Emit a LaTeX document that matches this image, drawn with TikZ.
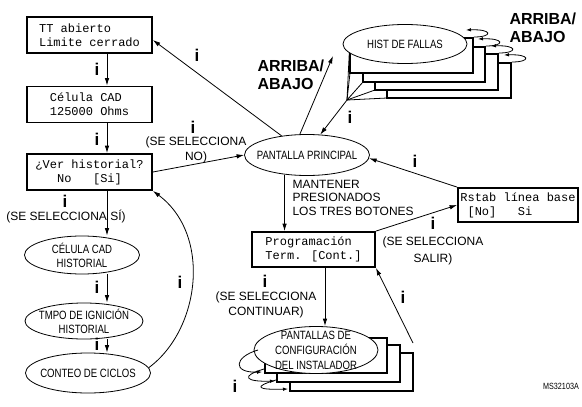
\documentclass[tikz,border=0pt]{standalone}
\usepackage{fontspec}
\setmainfont{Liberation Sans}
\newfontfamily\narrowfont{Liberation Sans}[FakeStretch=0.8]
\newfontfamily\lcdfont{Liberation Mono}
\usetikzlibrary{shapes.geometric, arrows.meta, positioning}
\tikzset{
  >=Latex,
  flowarrow/.style={-{Latex[length=7.5pt, width=4.5pt]}, line width=0.8pt},
  looparrow/.style={-{Latex[length=5pt, width=3.5pt]}, line width=0.8pt}
}
\begin{document}
\begin{tikzpicture}[
    x=1pt, y=-1pt,
    lcdbox/.style={rectangle, draw, line width=1.8pt, inner sep=0pt, minimum width=125pt, minimum height=36pt, align=left, font=\lcdfont\fontsize{12}{14}\selectfont},
    oval/.style={ellipse, draw, line width=0.8pt, fill=white, inner xsep=-7pt, inner ysep=-5pt, align=center, font=\narrowfont\fontsize{12}{14}\selectfont},
    card/.style={draw, line width=1.6pt, fill=white},
    ilabel/.style={font=\bfseries\fontsize{17}{17}\selectfont},
    note/.style={align=center, font=\fontsize{12}{15}\selectfont},
    bignote/.style={align=left, font=\bfseries\fontsize{16}{18}\selectfont}
]
    \fill[white] (0,0) rectangle (582,407);
    \useasboundingbox (0,0) rectangle (582,407);

    % LCD screens, left column
    \node[lcdbox] (tt) at (89.5, 35) {TT abierto\\Limite cerrado};
    \node[lcdbox] (cad) at (89.5, 104.5) {Célula CAD\\125000 Ohms};
    \node[lcdbox] (ver) at (89.5, 172) {¿Ver historial?\\\phantom{xxx}No\ \ \ [Si]};

    % history ovals
    \node[oval, minimum width=115pt, minimum height=38pt] (hcad) at (82, 255) {CÉLULA CAD\\HISTORIAL};
    \node[oval, minimum width=118pt, minimum height=36pt] (hign) at (84, 321) {TMPO DE IGNICIÓN\\HISTORIAL};
    \node[oval, minimum width=125pt, minimum height=40pt] (hcic) at (88, 373) {CONTEO DE CICLOS};

    \node[oval, minimum width=125pt, minimum height=41pt] (main) at (307, 155) {PANTALLA PRINCIPAL};
    \node[lcdbox, minimum width=123pt, minimum height=35pt] (prog) at (313.5, 249.5) {Programación\\Term. [Cont.]};
    \node[lcdbox, minimum width=120pt, minimum height=34pt] (rst) at (518, 205) {Rstab línea base\\\phantom{x}[No]\ \ \ Si};

    % fault history cards
    \foreach \xl/\yt/\xr/\yb in {387/63/511/98, 375/54/498/90, 363/47/485/82, 350/38/473/73}
      \draw[card] (\xl,\yt) rectangle (\xr,\yb);
    \coordinate (fan) at (347, 100);
    \foreach \cx/\cy in {350/38, 350/73, 363/82, 375/90, 387/98}
      \draw[line width=0.8pt] (fan) -- (\cx,\cy);
    \node[oval, minimum width=124pt, minimum height=39pt] (hist) at (405, 44) {HIST DE FALLAS};
    \foreach \xr/\yt in {473/38, 485/47, 498/54, 511/63}
      \draw[looparrow] (\xr+1,\yt-1) .. controls (\xr+20,\yt-1) and (\xr+20,\yt-9) .. (\xr-7,\yt-8);

    % installer setup cards
    \foreach \xl/\yt/\xr/\yb in {290/353/413/391, 277/345/400/382, 265/338/387/373}
      \draw[card] (\xl,\yt) rectangle (\xr,\yb);
    \node[oval, minimum width=124pt, minimum height=47pt, font=\narrowfont\fontsize{12}{15}\selectfont] (inst) at (316, 350) {PANTALLAS DE\\CONFIGURACIÓN\\DEL INSTALADOR};
    \foreach \sx/\sy/\ex/\ey in {258/350/262/372, 264/369/275/381, 276/380/288/389}
      \draw[looparrow] (\sx,\sy) .. controls (\sx-24,\sy+7) and (\ex-30,\ey+1) .. (\ex,\ey);

    % connectors
    \coordinate (colx) at (107, 0);
    \draw[flowarrow] (tt.south -| colx) -- (cad.north -| colx);
    \draw[flowarrow] (cad.south -| colx) -- (ver.north -| colx);
    \draw[flowarrow] (ver.south -| colx) -- (hcad.north -| colx);
    \draw[flowarrow] (hcad.south -| colx) -- (hign.north -| colx);
    \draw[flowarrow] (hign.south -| colx) -- (hcic.north -| colx);
    \draw[flowarrow] (hcic.5) .. controls (200,330) and (212,235) .. (ver.south east);

    \draw[flowarrow] (ver.east) -- (main.west);
    \draw[flowarrow] (main.143) -- ([yshift=-5pt]tt.east);
    \coordinate (upend) at (333, 56);
    \draw[flowarrow] (main.109) -- (upend);
    \draw[flowarrow] (fan) -- (main.57);
    \draw[flowarrow] (main.-139) -- (main.-139 |- prog.north);
    \draw[flowarrow] ([xshift=11.5pt]prog.south) -- ([xshift=9pt]inst.north);
    \draw[flowarrow] (prog.north east) -- (rst.west);
    \draw[flowarrow] (rst.north west) -- (main.-3);
    \coordinate (instr) at (413, 343);
    \draw[flowarrow] (instr) -- (prog.south east);

    % labels
    \node[ilabel] (i1) at (97, 69) {i};
    \node[ilabel] (i2) at (97, 139) {i};
    \node[ilabel] (i3) at (65, 201) {i};
    \node[note] (selsi) at (66, 216.5) {(SE SELECCIONA SÍ)};
    \node[ilabel] (i4) at (97, 287) {i};
    \node[ilabel] (i5) at (97, 344) {i};
    \node[ilabel] (i6) at (180, 282) {i};
    \node[ilabel] (i7) at (197, 55) {i};
    \node[ilabel] (i8) at (193, 127) {i};
    \node[note] (selno) at (196, 150) {(SE SELECCIONA\\NO)};
    \node[ilabel] (i9) at (350, 117) {i};
    \node[bignote, anchor=west] (ud1) at (254, 75) {ARRIBA/\\ABAJO};
    \node[bignote, anchor=west] (ud2) at (506, 27.5) {ARRIBA/\\ABAJO};
    \node[note, anchor=west, align=left, font=\fontsize{12}{13.5}\selectfont] (hold) at (289, 197.5) {MANTENER\\PRESIONADOS\\LOS TRES BOTONES};
    \node[ilabel] (i10) at (265, 281) {i};
    \node[note] (selcont) at (266, 305) {(SE SELECCIONA\\CONTINUAR)};
    \node[ilabel] (i11) at (433, 223) {i};
    \node[note, font=\fontsize{12}{17.5}\selectfont] (selsal) at (433, 251) {(SE SELECCIONA\\SALIR)};
    \node[ilabel] (i12) at (415, 161) {i};
    \node[ilabel] (i13) at (403, 297) {i};
    \node[ilabel] (i14) at (235, 386) {i};
    \node[font=\narrowfont\fontsize{9}{9}\selectfont] (code) at (561, 386) {MS32103A};
\end{tikzpicture}
\end{document}
